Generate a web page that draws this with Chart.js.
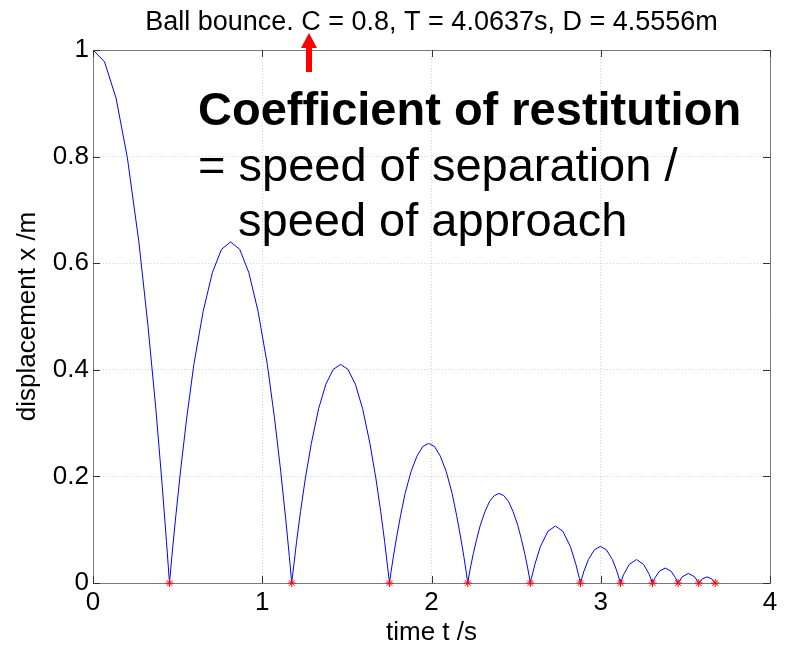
<!DOCTYPE html>
<html>
<head>
<meta charset="utf-8">
<script src="https://cdn.jsdelivr.net/npm/chart.js@4"></script>
<style>
  html, body { margin: 0; padding: 0; background: #fff; }
  canvas { display: block; }
</style>
</head>
<body>
<canvas id="bounceChart" width="786" height="648"></canvas>
<script>
// time (s) and displacement (m), arc by arc
const timeValues = [
  0, 0.068, 0.136, 0.203, 0.271, 0.325, 0.371, 0.407, 0.434, 0.452,
  0.466, 0.488, 0.517, 0.553, 0.596, 0.651, 0.705, 0.759, 0.813,
  0.867, 0.921, 0.975, 1.030, 1.073, 1.109, 1.138, 1.160, 1.174,
  1.186, 1.203, 1.226, 1.255, 1.290, 1.333, 1.376, 1.420, 1.463,
  1.506, 1.550, 1.593, 1.636, 1.671, 1.700, 1.723, 1.740, 1.752,
  1.761, 1.775, 1.794, 1.817, 1.844, 1.879, 1.914, 1.948, 1.983,
  2.018, 2.052, 2.087, 2.122, 2.149, 2.172, 2.191, 2.205, 2.214,
  2.221, 2.232, 2.247, 2.266, 2.288, 2.316, 2.343, 2.371, 2.399,
  2.427, 2.455, 2.482, 2.510, 2.532, 2.551, 2.566, 2.577, 2.584,
  2.590, 2.611, 2.643, 2.688, 2.732, 2.776, 2.821, 2.853, 2.874, 2.880,
  2.885, 2.901, 2.927, 2.963, 2.998, 3.033, 3.069, 3.095, 3.111, 3.117,
  3.135, 3.169, 3.211, 3.253, 3.287, 3.306,
  3.321, 3.347, 3.381, 3.415, 3.441, 3.457,
  3.481, 3.518, 3.555, 3.579,
  3.599, 3.628, 3.657, 3.676
];
const displacementValues = [
  1, 0.978, 0.91, 0.798, 0.64, 0.482, 0.328, 0.19, 0.078, 0,
  0.050, 0.122, 0.210, 0.308, 0.410, 0.510, 0.582, 0.626, 0.64,
  0.626, 0.582, 0.510, 0.410, 0.308, 0.210, 0.122, 0.050, 0,
  0.032, 0.078, 0.134, 0.197, 0.262, 0.327, 0.373, 0.401, 0.41,
  0.401, 0.373, 0.327, 0.262, 0.197, 0.134, 0.078, 0.032, 0,
  0.021, 0.050, 0.086, 0.126, 0.168, 0.209, 0.238, 0.256, 0.262,
  0.256, 0.238, 0.209, 0.168, 0.126, 0.086, 0.050, 0.021, 0,
  0.013, 0.032, 0.055, 0.081, 0.108, 0.134, 0.153, 0.164, 0.168,
  0.164, 0.153, 0.134, 0.108, 0.081, 0.055, 0.032, 0.013, 0,
  0.0084, 0.035, 0.068, 0.097, 0.107, 0.097, 0.068, 0.035, 0.0084, 0,
  0.0054, 0.0225, 0.044, 0.0624, 0.0686, 0.0624, 0.044, 0.0225, 0.0054, 0,
  0.0158, 0.035, 0.044, 0.035, 0.0158, 0,
  0.010, 0.0223, 0.028, 0.0223, 0.010, 0,
  0.0115, 0.018, 0.0115, 0,
  0.0074, 0.0115, 0.0074, 0
];
// impacts (red asterisks)
const bounceTimes = [0.452, 1.174, 1.752, 2.214, 2.584, 2.880, 3.117, 3.306, 3.457, 3.579, 3.676];
const bounceDisplacement = [0, 0, 0, 0, 0, 0, 0, 0, 0, 0, 0];

const xTickLabels = ["0", "1", "2", "3", "4"];
const yTickLabels = ["0", "0.2", "0.4", "0.6", "0.8", "1"];

const chartTitle = "Ball bounce. C = 0.8, T = 4.0637s, D = 4.5556m";
const noteLines = ["Coefficient of restitution", "= speed of separation /", "speed of approach"];

const FONT = "'Liberation Sans', Arial, Helvetica, sans-serif";

const curvePoints = timeValues.map((t, i) => ({ x: t, y: displacementValues[i] }));
const bouncePoints = bounceTimes.map((t, i) => ({ x: t, y: bounceDisplacement[i] }));

// MATLAB style box, inward ticks, title and the annotation
const matlabDecor = {
  id: "matlabDecor",
  afterDraw(chart) {
    const ctx = chart.ctx;
    const { left, right, top, bottom } = chart.chartArea;
    const xs = chart.scales.x, ys = chart.scales.y;
    ctx.save();

    // box
    ctx.strokeStyle = "#7a7a7a";
    ctx.lineWidth = 1;
    ctx.beginPath();
    ctx.moveTo(left, top + 0.5);
    ctx.lineTo(right + 0.5, top + 0.5);
    ctx.lineTo(right + 0.5, bottom);
    ctx.stroke();

    // ticks pointing inward
    ctx.strokeStyle = "#333";
    ctx.beginPath();
    xs.ticks.forEach(t => {
      const px = Math.round(xs.getPixelForValue(t.value)) + 0.5;
      ctx.moveTo(px, bottom); ctx.lineTo(px, bottom - 7);
      ctx.moveTo(px, top); ctx.lineTo(px, top + 7);
    });
    ys.ticks.forEach(t => {
      const py = Math.round(ys.getPixelForValue(t.value)) + 0.5;
      ctx.moveTo(left, py); ctx.lineTo(left + 7, py);
      ctx.moveTo(right, py); ctx.lineTo(right - 7, py);
    });
    ctx.stroke();

    // title
    ctx.fillStyle = "#000";
    ctx.textAlign = "center";
    ctx.textBaseline = "alphabetic";
    ctx.font = "27px " + FONT;
    ctx.fillText(chartTitle, (left + right) / 2, 30);

    // annotation
    ctx.textAlign = "left";
    ctx.font = "bold 47px " + FONT;
    ctx.fillText(noteLines[0], 198, 125);
    ctx.font = "47px " + FONT;
    ctx.fillText(noteLines[1], 198, 181);
    ctx.fillText(noteLines[2], 238, 236);

    // red arrow pointing at C
    ctx.fillStyle = "#ff0000";
    ctx.fillRect(306, 46, 6, 26);
    ctx.beginPath();
    ctx.moveTo(309, 33);
    ctx.lineTo(317, 48);
    ctx.lineTo(301, 48);
    ctx.closePath();
    ctx.fill();

    ctx.restore();
  }
};

new Chart(document.getElementById("bounceChart"), {
  type: "scatter",
  data: {
    datasets: [
      {
        label: "bounces",
        data: bouncePoints,
        pointStyle: "star",
        pointRadius: 4,
        borderColor: "#ff0000",
        backgroundColor: "#ff0000",
        borderWidth: 1,
        showLine: false,
        clip: false
      },
      {
        label: "x(t)",
        data: curvePoints,
        showLine: true,
        borderColor: "#0000ff",
        borderWidth: 1,
        pointRadius: 0,
        tension: 0,
        clip: false
      }
    ]
  },
  options: {
    responsive: false,
    animation: false,
    layout: { padding: { top: 50, right: 16, left: 0, bottom: 0 } },
    plugins: {
      legend: { display: false },
      tooltip: { enabled: false }
    },
    scales: {
      x: {
        type: "linear",
        min: 0,
        max: 4,
        afterFit: s => { s.height = 65; },
        ticks: {
          stepSize: 1,
          padding: 4,
          color: "#000",
          font: { family: FONT, size: 26 },
          callback: (v, i) => xTickLabels[i]
        },
        grid: { color: "#d4d4d4", drawTicks: false },
        border: { color: "#7a7a7a", dash: [1, 2] },
        title: {
          display: true,
          text: "time t /s",
          color: "#000",
          font: { family: FONT, size: 26 },
          padding: { top: 0, bottom: 0 }
        }
      },
      y: {
        min: 0,
        max: 1,
        afterFit: s => { s.width = 93; },
        ticks: {
          stepSize: 0.2,
          padding: 4,
          color: "#000",
          font: { family: FONT, size: 26 },
          callback: (v, i) => yTickLabels[i]
        },
        grid: { color: "#d4d4d4", drawTicks: false },
        border: { color: "#7a7a7a", dash: [1, 2] },
        title: {
          display: true,
          text: "displacement x /m",
          color: "#000",
          font: { family: FONT, size: 26 },
          padding: { top: 12, bottom: 0 }
        }
      }
    }
  },
  plugins: [matlabDecor]
});
</script>
</body>
</html>
